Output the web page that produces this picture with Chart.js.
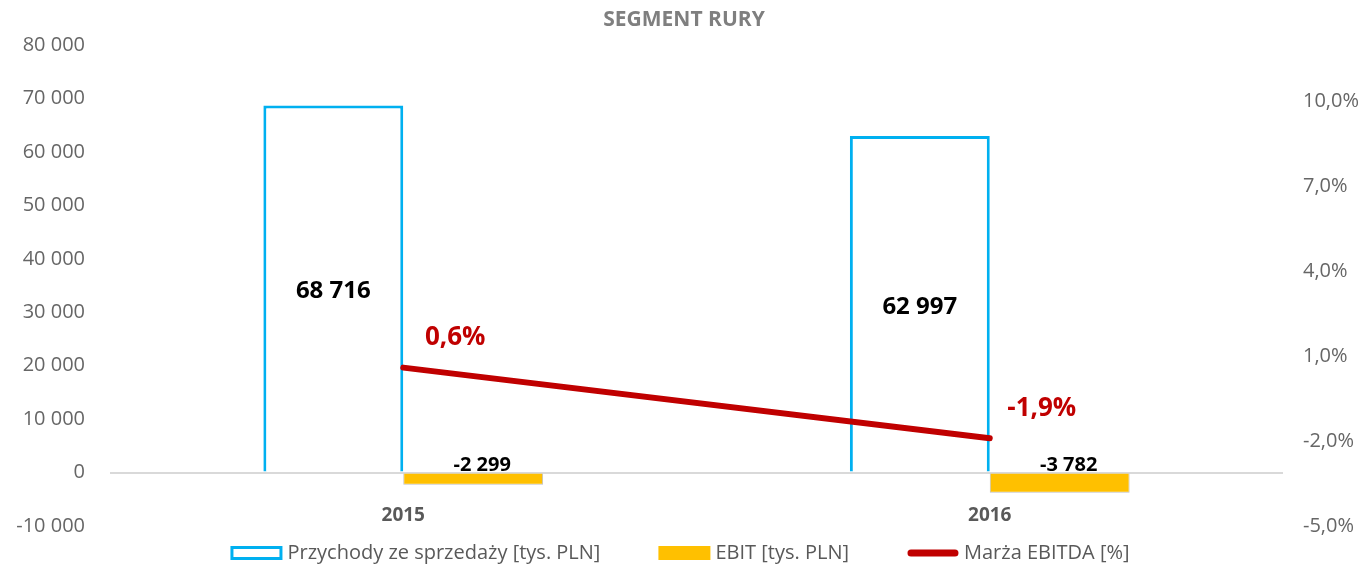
<!DOCTYPE html>
<html>
<head>
<meta charset="utf-8">
<script src="https://cdn.jsdelivr.net/npm/chart.js@4.4.1/dist/chart.umd.min.js"></script>
<style>
  html, body { margin: 0; padding: 0; background: #ffffff; }
  #wrap { width: 1368px; height: 570px; }
</style>
</head>
<body>
<div id="wrap"><canvas id="c" width="1368" height="570"></canvas></div>
<script>
const categories = ['2015', '2016'];
const revenue = [68716, 62997];          // Przychody ze sprzedaży [tys. PLN]
const ebit = [-2299, -3782];             // EBIT [tys. PLN]
const ebitdaMargin = [0.6, -1.9];        // Marża EBITDA [%]
const leftTicks = [-10000, 0, 10000, 20000, 30000, 40000, 50000, 60000, 70000, 80000];
const rightTicks = [-5, -2, 1, 4, 7, 10];
const seriesLabels = ['Przychody ze sprzedaży [tys. PLN]', 'EBIT [tys. PLN]', 'Marża EBITDA [%]'];
const titleText = 'SEGMENT RURY';

const FONT = "'Open Sans', 'Noto Sans', sans-serif";
const fmtThousands = v => {
  const s = Math.abs(Math.round(v)).toString().replace(/\B(?=(\d{3})+(?!\d))/g, ' ');
  return (v < 0 ? '-' : '') + s;
};
const fmtPct = (v, d) => v.toFixed(d).replace('.', ',') + '%';

const labelsPlugin = {
  id: 'valueLabels',
  afterDatasetsDraw(chart) {
    const ctx = chart.ctx;
    ctx.save();
    chart.getDatasetMeta(0).data.forEach((bar, i) => {
      ctx.font = "bold 24px " + FONT;
      ctx.fillStyle = '#000000';
      ctx.textAlign = 'center';
      ctx.textBaseline = 'middle';
      ctx.fillText(fmtThousands(revenue[i]), bar.x, (bar.y + bar.base) / 2 + 3);
    });
    chart.getDatasetMeta(1).data.forEach((bar, i) => {
      ctx.font = "bold 20px " + FONT;
      ctx.fillStyle = '#000000';
      ctx.textAlign = 'center';
      ctx.textBaseline = 'alphabetic';
      ctx.fillText(fmtThousands(ebit[i]), bar.x + 9, bar.base - 3);
    });
    chart.getDatasetMeta(2).data.forEach((pt, i) => {
      ctx.font = "bold 26px " + FONT;
      ctx.fillStyle = '#C00000';
      ctx.textAlign = 'center';
      ctx.textBaseline = 'middle';
      ctx.fillText(fmtPct(ebitdaMargin[i], 1), pt.x + 52, pt.y - 30);
    });
    ctx.restore();
  }
};

// legend drawn at the bottom (items built from dataset styles)
const legendPlugin = {
  id: 'bottomLegend',
  afterDraw(chart) {
    const ctx = chart.ctx;
    const ds = chart.data.datasets;
    const boxW = 52, boxH = 14, gap = 5, spacing = 58, cy = 553;
    ctx.save();
    ctx.font = "20px " + FONT;
    const widths = ds.map(d => ctx.measureText(d.label).width);
    const total = widths.reduce((a, w) => a + w + boxW + gap, 0) + spacing * (ds.length - 1);
    let x = 680 - total / 2;
    ds.forEach((d, i) => {
      if (d.type === 'line') {
        ctx.strokeStyle = d.borderColor;
        ctx.lineWidth = 7;
        ctx.lineCap = 'round';
        ctx.beginPath();
        ctx.moveTo(x + 4, cy);
        ctx.lineTo(x + boxW - 4, cy);
        ctx.stroke();
      } else if (d.backgroundColor === '#ffffff') {
        ctx.fillStyle = '#ffffff';
        ctx.fillRect(x, cy - boxH / 2, boxW, boxH);
        ctx.strokeStyle = d.borderColor;
        ctx.lineWidth = 3;
        ctx.strokeRect(x + 1.5, cy - boxH / 2 + 1.5, boxW - 3, boxH - 3);
      } else {
        ctx.fillStyle = d.backgroundColor;
        ctx.fillRect(x, cy - boxH / 2, boxW, boxH);
      }
      ctx.fillStyle = '#595959';
      ctx.textAlign = 'left';
      ctx.textBaseline = 'middle';
      ctx.fillText(d.label, x + boxW + gap, cy);
      x += boxW + gap + widths[i] + spacing;
    });
    ctx.restore();
  }
};

new Chart(document.getElementById('c'), {
  type: 'bar',
  data: {
    labels: categories,
    datasets: [
      {
        label: seriesLabels[0],
        data: revenue,
        backgroundColor: '#ffffff',
        borderColor: '#00B0F0',
        borderWidth: 3,
        yAxisID: 'y',
        order: 1
      },
      {
        label: seriesLabels[1],
        data: ebit,
        backgroundColor: '#FFC000',
        borderColor: '#BFBFBF',
        borderWidth: 1,
        yAxisID: 'y',
        order: 1
      },
      {
        type: 'line',
        label: seriesLabels[2],
        data: ebitdaMargin,
        borderColor: '#C00000',
        backgroundColor: '#C00000',
        borderWidth: 6,
        borderCapStyle: 'round',
        pointRadius: 0,
        pointHoverRadius: 0,
        tension: 0,
        yAxisID: 'y1',
        order: 0
      }
    ]
  },
  options: {
    responsive: false,
    animation: false,
    devicePixelRatio: 1,
    layout: { padding: { left: 0, right: 0, top: 0, bottom: 30 } },
    datasets: {
      bar: { categoryPercentage: 0.477, barPercentage: 1.0 }
    },
    scales: {
      x: {
        grid: { display: false, drawTicks: false },
        border: { display: false },
        ticks: {
          mirror: true,
          padding: -1,
          color: '#595959',
          font: { family: FONT, size: 19, weight: 'bold' }
        },
        afterFit: s => { s.height = 14; }
      },
      y: {
        position: 'left',
        min: -10000,
        max: 80000,
        border: { display: false },
        grid: {
          drawTicks: false,
          color: c => (c.tick && c.tick.value === 0 ? '#D9D9D9' : 'rgba(0,0,0,0)'),
          lineWidth: 2
        },
        ticks: {
          padding: 25,
          color: '#666666',
          font: { family: FONT, size: 20 },
          callback: v => fmtThousands(v)
        },
        afterBuildTicks: s => { s.ticks = leftTicks.map(v => ({ value: v })); },
        afterFit: s => { s.width = 110; }
      },
      y1: {
        position: 'right',
        min: -5,
        max: 12,
        border: { display: false },
        grid: { display: false, drawOnChartArea: false, drawTicks: false },
        ticks: {
          padding: 20,
          color: '#666666',
          font: { family: FONT, size: 20 },
          callback: v => fmtPct(v, 1)
        },
        afterBuildTicks: s => { s.ticks = rightTicks.map(v => ({ value: v })); },
        afterFit: s => { s.width = 85; }
      }
    },
    plugins: {
      title: {
        display: true,
        text: titleText,
        color: '#7F7F7F',
        font: { family: FONT, size: 21, weight: 'bold' },
        padding: { top: 7, bottom: 13 }
      },
      legend: { display: false },
      tooltip: { enabled: false }
    }
  },
  plugins: [labelsPlugin, legendPlugin]
});
</script>
</body>
</html>
